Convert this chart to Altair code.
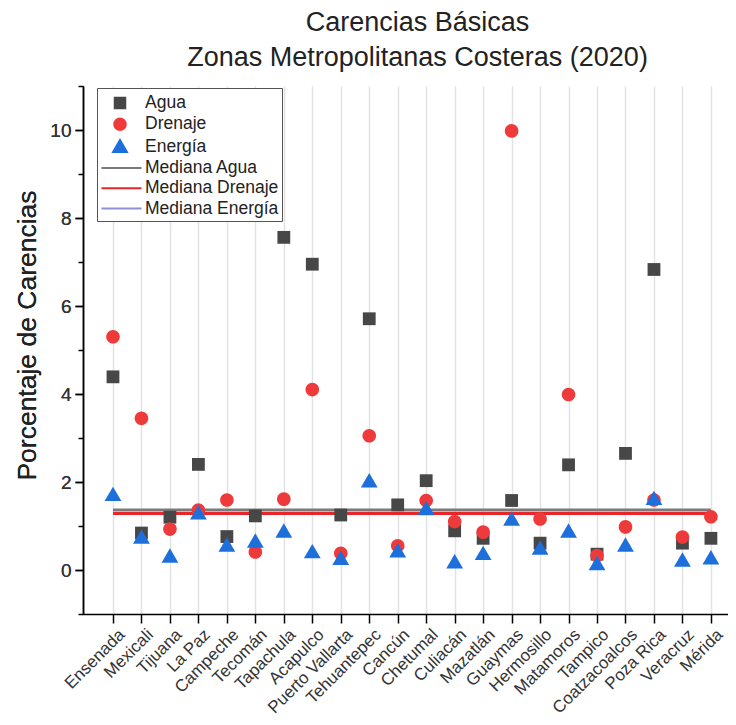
import json
import numpy as np
import pandas as pd
import altair as alt

FONT = "Liberation Sans"

ciudades = ["Ensenada", "Mexicali", "Tijuana", "La Paz", "Campeche", "Tecomán",
            "Tapachula", "Acapulco", "Puerto Vallarta", "Tehuantepec", "Cancún",
            "Chetumal", "Culiacán", "Mazatlán", "Guaymas", "Hermosillo",
            "Matamoros", "Tampico", "Coatzacoalcos", "Poza Rica", "Veracruz", "Mérida"]
agua = [4.39, 0.84, 1.20, 2.40, 0.76, 1.23, 7.56, 6.95, 1.25, 5.71, 1.48,
        2.03, 0.89, 0.72, 1.58, 0.61, 2.39, 0.36, 2.65, 6.83, 0.61, 0.72]
drenaje = [5.30, 3.45, 0.93, 1.36, 1.59, 0.41, 1.61, 4.10, 0.38, 3.05, 0.55,
           1.58, 1.10, 0.86, 9.98, 1.16, 3.99, 0.33, 0.98, 1.59, 0.75, 1.21]
energia = [1.72, 0.75, 0.32, 1.30, 0.57, 0.66, 0.89, 0.42, 0.27, 2.03, 0.44,
           1.40, 0.19, 0.38, 1.16, 0.50, 0.89, 0.15, 0.57, 1.63, 0.23, 0.28]

series = ["Agua", "Drenaje", "Energía"]
medianas = ["Mediana Agua", "Mediana Drenaje", "Mediana Energía"]
legend_items = series + medianas
point_colors = ["#474747", "#ee3a3a", "#1d6fdc"]
line_colors = ["#7a7a7a", "#e8262a", "#8f8fd6"]

# marker paths on the plot (unit box [-1, 1], drawn at size 1600 -> 20 px per unit)
P_SQUARE = "M-0.32,-0.32H0.32V0.32H-0.32Z"
P_CIRCLE = "M-0.34,0A0.34,0.34 0 1,0 0.34,0A0.34,0.34 0 1,0 -0.34,0Z"
P_TRIANGLE = "M0,-0.38L0.42,0.34L-0.42,0.34Z"
# legend symbols (drawn at size 441 -> 10.5 px per unit), centred a bit to the right
L_SQUARE = "M0.262,-0.5H1.262V0.5H0.262Z"
L_CIRCLE = "M0.212,0A0.55,0.55 0 1,0 1.312,0A0.55,0.55 0 1,0 0.212,0Z"
L_TRIANGLE = "M0.762,-0.62L1.42,0.52L0.104,0.52Z"
L_LINE = "M-1,0H2.81"

rows = []
for name, vals in zip(series, [agua, drenaje, energia]):
    for i, v in enumerate(vals):
        rows.append({"idx": i + 1, "ciudad": ciudades[i], "serie": name, "valor": v})
df = pd.DataFrame(rows)

df_med = pd.DataFrame({
    "serie": ["Mediana Agua", "Mediana Drenaje"],
    "valor": [float(np.median(agua)), float(np.median(drenaje))],
    "x0": [1, 1],
    "x1": [len(ciudades), len(ciudades)],
})

df_leg = pd.DataFrame({"serie": legend_items, "idx": [1] * 6, "valor": [0.0] * 6})

legend = alt.Legend(title=None, orient="none", legendX=14, legendY=2,
                    fillColor="white", strokeColor="#555", padding=3.5,
                    labelFontSize=17.5, labelFont=FONT, labelColor="#222",
                    rowPadding=0.3, labelOffset=21.5, symbolStrokeWidth=2,
                    symbolSize=441, symbolOpacity=1)

x_scale = alt.Scale(domain=[-0.053, 22.6], nice=False, zero=False)
y_scale = alt.Scale(domain=[-1, 11], nice=False, zero=False)

label_expr = json.dumps(ciudades, ensure_ascii=False) + "[datum.value - 1]"

x_axis = alt.Axis(values=list(range(1, len(ciudades) + 1)), labelExpr=label_expr,
                  labelAngle=-45, labelAlign="right", labelBaseline="top",
                  labelOverlap=False, labelFontSize=17, labelFont=FONT,
                  labelColor="#333", labelPadding=3, labelOffset=3,
                  tickSize=9, tickColor="black", tickWidth=1.5,
                  domainColor="black", domainWidth=1.5,
                  grid=True, gridColor="#e2e2e2", gridWidth=1.5, title=None)

y_axis = alt.Axis(values=[0, 2, 4, 6, 8, 10], orient="left", tickSize=8, tickWidth=1.5,
                  tickColor="black", domainColor="black", domainWidth=1.5,
                  labelFontSize=19, labelFont=FONT, labelColor="#333", labelPadding=4,
                  grid=False, title="Porcentaje de Carencias", titleFontSize=26.5,
                  titleFont=FONT, titleFontWeight="normal", titleColor="#222",
                  titleX=-56, titleY=249, titleBaseline="middle")

y_minor = alt.Axis(values=[-1, 1, 3, 5, 7, 9, 11], orient="left", tickSize=5,
                   tickWidth=1.5, tickColor="black", labels=False, domain=False,
                   grid=False, title=None)

rules = alt.Chart(df_med).mark_rule(strokeWidth=3).encode(
    x=alt.X("x0:Q", scale=x_scale, axis=x_axis),
    x2="x1:Q",
    y=alt.Y("valor:Q", scale=y_scale, axis=y_minor),
    stroke=alt.Stroke("serie:N", scale=alt.Scale(domain=medianas, range=line_colors),
                      legend=None),
)

points = alt.Chart(df).mark_point(filled=True, opacity=1, size=1600).encode(
    x=alt.X("idx:Q", scale=x_scale, axis=x_axis),
    y=alt.Y("valor:Q", scale=y_scale, axis=y_axis),
    fill=alt.Fill("serie:N", scale=alt.Scale(domain=series, range=point_colors),
                  legend=None),
    shape=alt.Shape("serie:N",
                    scale=alt.Scale(domain=series, range=[P_SQUARE, P_CIRCLE, P_TRIANGLE]),
                    legend=None),
)

# invisible layer that only carries the combined legend
leg_layer = alt.Chart(df_leg).mark_point(filled=True, opacity=0, size=441).encode(
    x=alt.X("idx:Q", scale=x_scale, axis=x_axis),
    y=alt.Y("valor:Q", scale=y_scale, axis=y_axis),
    fill=alt.Fill("serie:N", scale=alt.Scale(domain=legend_items,
                                             range=point_colors + line_colors),
                  legend=legend),
    stroke=alt.Stroke("serie:N", scale=alt.Scale(domain=legend_items,
                                                 range=point_colors + line_colors),
                      legend=legend),
    shape=alt.Shape("serie:N", scale=alt.Scale(
        domain=legend_items,
        range=[L_SQUARE, L_CIRCLE, L_TRIANGLE, L_LINE, L_LINE, L_LINE]),
        legend=legend),
)

chart = alt.layer(rules, points, leg_layer).resolve_axis(y="independent").resolve_scale(
    fill="independent", stroke="independent", shape="independent"
).properties(
    width=645, height=528,
    padding={"left": 75, "top": 78, "right": 0, "bottom": 103},
    autosize=alt.AutoSizeParams(type="none"),
    title=alt.Title(text=["Carencias Básicas", "Zonas Metropolitanas Costeras (2020)"],
                    fontSize=27, font=FONT, fontWeight="normal", anchor="middle",
                    baseline="bottom", lineHeight=35, offset=12, dy=26, dx=12,
                    color="#222", frame="group"),
).configure_view(strokeWidth=0)

chart.save("out.html", embed_options={"renderer": "svg", "actions": False})
